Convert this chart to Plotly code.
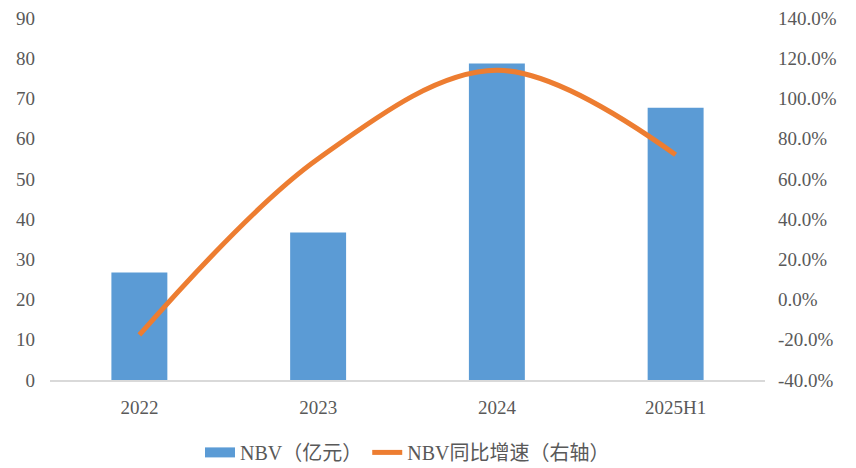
import plotly.graph_objects as go

categories = ["2022", "2023", "2024", "2025H1"]
nbv = [26.7, 36.7, 78.7, 67.7]
nbv_yoy = [-0.176, 0.70, 1.14, 0.72]

left_ticks = [0, 10, 20, 30, 40, 50, 60, 70, 80, 90]
right_tickvals = [-0.4, -0.2, 0.0, 0.2, 0.4, 0.6, 0.8, 1.0, 1.2, 1.4]
right_ticktext = ["-40.0%", "-20.0%", "0.0%", "20.0%", "40.0%", "60.0%",
                  "80.0%", "100.0%", "120.0%", "140.0%"]

font_family = "Liberation Serif, DejaVu Serif, Noto Sans CJK SC, serif"
txt_color = "#595959"
bar_color = "#5B9BD5"
line_color = "#ED7D31"

fig = go.Figure()
fig.add_trace(go.Bar(
    x=categories, y=nbv, name="NBV（亿元）",
    marker=dict(color=bar_color, line=dict(width=0)),
    yaxis="y", showlegend=False, legendgroup="bar",
))
# legend swatch for the bars (wide rectangle like the original)
fig.add_trace(go.Scatter(
    x=[None], y=[None], name="NBV（亿元）", mode="lines",
    line=dict(color=bar_color, width=14), legendgroup="bar",
))
fig.add_trace(go.Scatter(
    x=categories, y=nbv_yoy, name="NBV同比增速（右轴）",
    mode="lines", line=dict(color=line_color, width=5, shape="spline", smoothing=1.0),
    yaxis="y2",
))

fig.update_layout(
    width=856, height=468,
    margin=dict(l=50, r=91, t=18, b=88, autoexpand=False),
    paper_bgcolor="white", plot_bgcolor="white",
    font=dict(family=font_family, size=19, color=txt_color),
    bargap=0.687,
    showlegend=True,
    legend=dict(orientation="h", x=0.5, xanchor="center", y=-0.2, yanchor="middle",
                font=dict(size=20, color=txt_color), tracegroupgap=0),
    xaxis=dict(showgrid=False, showline=True, linecolor="#D9D9D9", linewidth=1.5,
               ticks="", ticklabelstandoff=9, zeroline=False, automargin=False),
    yaxis=dict(range=[0, 90], tickvals=left_ticks, showgrid=False, zeroline=False,
               showline=False, ticks="", ticklabelstandoff=14, automargin=False),
    yaxis2=dict(range=[-0.4, 1.4], tickvals=right_tickvals, ticktext=right_ticktext,
                overlaying="y", side="right", showgrid=False, zeroline=False,
                showline=False, ticks="", ticklabelstandoff=12, automargin=False),
)

fig.write_html("out.html", config={"displayModeBar": False},
               post_script="document.body.style.margin='0';")
